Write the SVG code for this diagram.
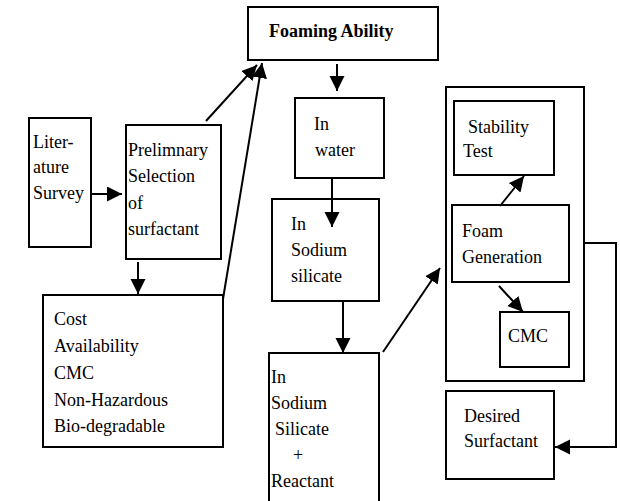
<svg xmlns="http://www.w3.org/2000/svg" width="620" height="501" viewBox="0 0 620 501">
<style>
  .box { fill: #fff; stroke: #000; stroke-width: 2; }
  .t { font-family: "Liberation Serif", "Times New Roman", serif; font-size: 18px; fill: #000; }
  .b { font-weight: bold; }
  .c { fill: none; stroke: #000; stroke-width: 2; }
</style>
<defs>
  <marker id="ah" markerUnits="userSpaceOnUse" markerWidth="16" markerHeight="16" refX="15" refY="7.5" orient="auto" viewBox="0 0 16 16">
    <path d="M0,0 L15,7.5 L0,15 z" fill="#000"/>
  </marker>
</defs>
<rect width="620" height="501" fill="#fff"/>

<g id="literature">
  <rect class="box" x="29" y="118" width="62" height="129"/>
  <text class="t" x="33" y="148">Liter-</text>
  <text class="t" x="33" y="173">ature</text>
  <text class="t" x="33" y="199">Survey</text>
</g>

<g id="preliminary">
  <rect class="box" x="126" y="125" width="95" height="134"/>
  <text class="t" x="128" y="156">Prelimnary</text>
  <text class="t" x="128" y="182">Selection</text>
  <text class="t" x="128" y="209">of</text>
  <text class="t" x="128" y="235">surfactant</text>
</g>

<g id="criteria">
  <rect class="box" x="43" y="295" width="180" height="152"/>
  <text class="t" x="54" y="325">Cost</text>
  <text class="t" x="54" y="352">Availability</text>
  <text class="t" x="54" y="379">CMC</text>
  <text class="t" x="54" y="406">Non-Hazardous</text>
  <text class="t" x="54" y="432">Bio-degradable</text>
</g>

<g id="foaming">
  <rect class="box" x="248" y="7" width="190" height="53"/>
  <text class="t b" x="269" y="37">Foaming Ability</text>
</g>

<g id="water">
  <rect class="box" x="295" y="98" width="89" height="80"/>
  <text class="t" x="314" y="130">In</text>
  <text class="t" x="315" y="156">water</text>
</g>

<g id="silicate">
  <rect class="box" x="272" y="199" width="107" height="102"/>
  <text class="t" x="291" y="230">In</text>
  <text class="t" x="291" y="256">Sodium</text>
  <text class="t" x="291" y="282">silicate</text>
</g>

<g id="reactant">
  <path class="box" d="M269,512 V353 H379 V512"/>
  <text class="t" x="271" y="383">In</text>
  <text class="t" x="271" y="409">Sodium</text>
  <text class="t" x="275" y="435">Silicate</text>
  <text class="t" x="293" y="461">+</text>
  <text class="t" x="271" y="487">Reactant</text>
</g>

<g id="container">
  <rect class="box" x="446" y="87" width="138" height="294"/>
</g>

<g id="stability">
  <rect class="box" x="454" y="101" width="100" height="74"/>
  <text class="t" x="468" y="133">Stability</text>
  <text class="t" x="463" y="157">Test</text>
</g>

<g id="foam-generation">
  <rect class="box" x="452" y="205" width="117" height="77"/>
  <text class="t" x="462" y="237">Foam</text>
  <text class="t" x="462" y="263">Generation</text>
</g>

<g id="cmc">
  <rect class="box" x="500" y="312" width="69" height="55"/>
  <text class="t" x="508" y="342">CMC</text>
</g>

<g id="desired">
  <rect class="box" x="446" y="391" width="108" height="88"/>
  <text class="t" x="464" y="422">Desired</text>
  <text class="t" x="464" y="447">Surfactant</text>
</g>

<g id="connectors">
  <line class="c" x1="91" y1="194" x2="122" y2="194" marker-end="url(#ah)"/>
  <line class="c" x1="206" y1="121" x2="257" y2="65" marker-end="url(#ah)"/>
  <line class="c" x1="223" y1="299" x2="262" y2="63" marker-end="url(#ah)"/>
  <line class="c" x1="138" y1="262" x2="138" y2="294" marker-end="url(#ah)"/>
  <line class="c" x1="337" y1="64" x2="337" y2="91" marker-end="url(#ah)"/>
  <line class="c" x1="332" y1="178" x2="332" y2="227" marker-end="url(#ah)"/>
  <line class="c" x1="343" y1="301" x2="343" y2="353" marker-end="url(#ah)"/>
  <line class="c" x1="383" y1="352" x2="440" y2="268" marker-end="url(#ah)"/>
  <line class="c" x1="500" y1="206" x2="524" y2="176" marker-end="url(#ah)"/>
  <line class="c" x1="499" y1="286" x2="523" y2="312" marker-end="url(#ah)"/>
  <path class="c" d="M584,243 H616 V447 H555" marker-end="url(#ah)"/>
</g>
</svg>
